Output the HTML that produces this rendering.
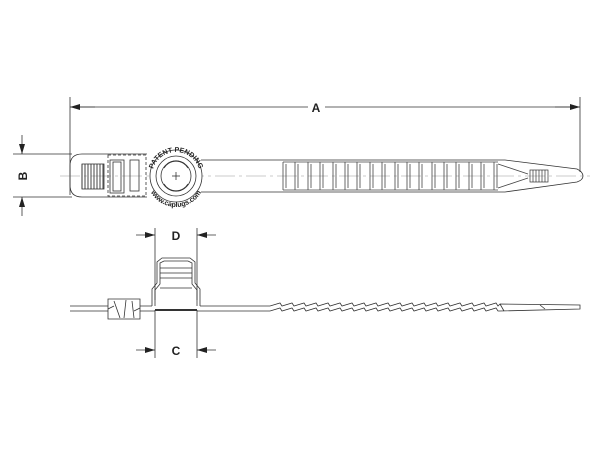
<!DOCTYPE html>
<html><head><style>body{margin:0;background:#fff}svg{display:block}</style></head><body>
<svg width="600" height="450" viewBox="0 0 600 450" xmlns="http://www.w3.org/2000/svg" font-family="Liberation Sans, sans-serif">
<defs>
<marker id="ar" markerWidth="10" markerHeight="6" refX="10" refY="3" orient="auto" markerUnits="userSpaceOnUse"><path d="M0,0 L10,3 L0,6z" fill="#222"/></marker>
</defs>
<g stroke="#333" stroke-width="0.8" fill="none">
<line x1="70" y1="97" x2="70" y2="195"/>
<line x1="580" y1="97" x2="580" y2="172"/>
<line x1="80" y1="107" x2="308" y2="107"/><line x1="325" y1="107" x2="570" y2="107"/>
<line x1="95" y1="107" x2="70" y2="107" marker-end="url(#ar)"/>
<line x1="555" y1="107" x2="580" y2="107" marker-end="url(#ar)"/>
<line x1="13" y1="154" x2="72" y2="154"/><line x1="13" y1="197" x2="72" y2="197"/>
<line x1="22" y1="135" x2="22" y2="154" marker-end="url(#ar)"/>
<line x1="22" y1="216" x2="22" y2="197" marker-end="url(#ar)"/>
<line x1="60" y1="176" x2="590" y2="176" stroke="#bbb" stroke-dasharray="20,4,3,4"/>
<path d="M147,154 H82 Q70,154 70,166 V185 Q70,197 82,197 H147"/>
<g stroke="#444" stroke-width="1">
<line x1="82" y1="164" x2="82" y2="189"/><line x1="85" y1="164" x2="85" y2="189"/><line x1="88" y1="164" x2="88" y2="189"/><line x1="91" y1="164" x2="91" y2="189"/><line x1="94" y1="164" x2="94" y2="189"/><line x1="97" y1="164" x2="97" y2="189"/><line x1="100" y1="164" x2="100" y2="189"/><line x1="103" y1="164" x2="103" y2="189"/>
</g>
<rect x="82" y="164" width="22" height="25"/>
<rect x="108" y="155" width="38" height="41" stroke-dasharray="3,2"/>
<rect x="110" y="160" width="14" height="33"/><rect x="113" y="162" width="8" height="29"/>
<rect x="130" y="160" width="9" height="31"/>
<circle cx="176" cy="176" r="26" fill="#fff"/>
<circle cx="176" cy="176" r="20"/>
<circle cx="176" cy="176" r="15"/>
<path d="M167,164 A14,14 0 0 1 185,164 M164,168 A14,14 0 0 1 188,168 M167,188 A14,14 0 0 0 185,188 M164,184 A14,14 0 0 0 188,184"/>
<line x1="172" y1="176" x2="180" y2="176"/><line x1="176" y1="172" x2="176" y2="180"/>
<path d="M201,160 H505 L577,169 Q583,172 583,176 Q583,180 577,182 L505,192 H201"/>
<g stroke="#333" stroke-width="0.7">
<rect x="530" y="170" width="18" height="12"/>
<line x1="533" y1="170" x2="533" y2="182"/><line x1="536" y1="170" x2="536" y2="182"/><line x1="539" y1="170" x2="539" y2="182"/><line x1="542" y1="170" x2="542" y2="182"/><line x1="545" y1="170" x2="545" y2="182"/>
</g>
<line x1="155" y1="228" x2="155" y2="300"/><line x1="197" y1="228" x2="197" y2="300"/>
<line x1="136" y1="235" x2="155" y2="235" marker-end="url(#ar)"/>
<line x1="216" y1="235" x2="197" y2="235" marker-end="url(#ar)"/>
<line x1="155" y1="310" x2="155" y2="358"/><line x1="197" y1="310" x2="197" y2="358"/>
<line x1="136" y1="350" x2="155" y2="350" marker-end="url(#ar)"/>
<line x1="216" y1="350" x2="197" y2="350" marker-end="url(#ar)"/>
<path d="M70,306 H108 M70,311 H108 M140,306 H152 M140,311 H155 M197,311 H270 M200,306 H270"/>
<path d="M108,299 L140,299 L140,319 L108,319 Z"/>
<path d="M114,301 L120,318 M126,300 L124,318 M132,301 L134,318 M108,309 L114,306 M134,311 L140,308"/>
<path d="M152,306 V289 L157,283 V262 L162,258 H190 L195,262 V283 L200,289 V306"/>
<path d="M155,306 V290 L160,284 V263 L164,261 H188 L192,263 V284 L197,290 V306"/>
<line x1="160" y1="268" x2="192" y2="268"/><line x1="160" y1="273" x2="192" y2="273"/><line x1="160" y1="278" x2="192" y2="278"/><line x1="160" y1="288" x2="192" y2="288"/>
<line x1="155" y1="310" x2="197" y2="310" stroke-width="2"/>
<path d="M270,306 l10,-3 l2,3 l10,-3 l2,3 l10,-3 l2,3 l10,-3 l2,3 l10,-3 l2,3 l10,-3 l2,3 l10,-3 l2,3 l10,-3 l2,3 l10,-3 l2,3 l10,-3 l2,3 l10,-3 l2,3 l10,-3 l2,3 l10,-3 l2,3 l10,-3 l2,3 l10,-3 l2,3 l10,-3 l2,3 l10,-3 l2,3 l10,-3 l2,3 l10,-3 l2,3 L500,304 L580,305 V309 L500,311"/>
<path d="M270,311 l10,-3 l2,3 l10,-3 l2,3 l10,-3 l2,3 l10,-3 l2,3 l10,-3 l2,3 l10,-3 l2,3 l10,-3 l2,3 l10,-3 l2,3 l10,-3 l2,3 l10,-3 l2,3 l10,-3 l2,3 l10,-3 l2,3 l10,-3 l2,3 l10,-3 l2,3 l10,-3 l2,3 l10,-3 l2,3 l10,-3 l2,3 l10,-3 l2,3 l10,-3 l2,3 L500,311"/>
<path d="M500,304 L504,311 M540,305 L545,309"/>
</g>
<g stroke="#444" stroke-width="0.8" fill="none">
<path d="M283,162 V190 M286,164 V188 M295,162 V190 M298,164 V188 M308,162 V190 M311,164 V188 M320,162 V190 M323,164 V188 M333,162 V190 M336,164 V188 M345,162 V190 M348,164 V188 M357,162 V190 M360,164 V188 M370,162 V190 M373,164 V188 M382,162 V190 M385,164 V188 M395,162 V190 M398,164 V188 M407,162 V190 M410,164 V188 M419,162 V190 M422,164 V188 M432,162 V190 M435,164 V188 M444,162 V190 M447,164 V188 M456,162 V190 M459,164 V188 M469,162 V190 M472,164 V188 M481,162 V190 M484,164 V188 M494,162 V190 M497,164 V188"/>
<path d="M283,162 H498 M283,190 H498"/>
<path d="M498,164 L528,174 M498,188 L528,178"/>
</g>
<g font-weight="bold" fill="#222">
<text x="316" y="112" font-size="12" text-anchor="middle">A</text>
<text x="176" y="240" font-size="12" text-anchor="middle">D</text>
<text x="176" y="355" font-size="12" text-anchor="middle">C</text>
<text transform="translate(27,176) rotate(-90)" font-size="12" text-anchor="middle">B</text>
</g>
<path id="tp" d="M152,176 A24,24 0 0 1 200,176" fill="none"/>
<path id="bp" d="M147,178 A29,29 0 0 0 205,178" fill="none"/>
<text font-size="7" font-weight="bold" fill="#222"><textPath href="#tp" startOffset="50%" text-anchor="middle">PATENT PENDING</textPath></text>
<text font-size="7" font-weight="bold" fill="#222"><textPath href="#bp" startOffset="50%" text-anchor="middle">www.caplugs.com</textPath></text>
</svg>
</body></html>
